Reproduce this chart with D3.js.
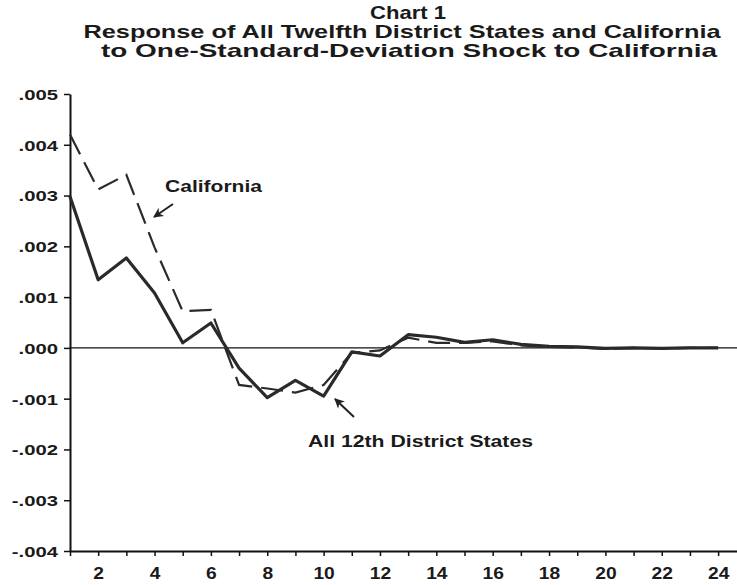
<!DOCTYPE html>
<html>
<head>
<meta charset="utf-8">
<script src="https://cdn.jsdelivr.net/npm/d3@7"></script>
<style>
  body { margin: 0; background: #fff; }
  text { font-family: "Liberation Sans", Arial, Helvetica, sans-serif; font-weight: bold; fill: #1a1a1a; }
</style>
</head>
<body>
<div id="drawArea"></div>
<script>
// periods after the shock
var periods = d3.range(1, 25);

// response of All 12th District States (solid)
var all12 = [0.00298, 0.00134, 0.00177, 0.00108, 0.00010, 0.00049, -0.00040, -0.00098,
             -0.00064, -0.00095, -0.00008, -0.00016, 0.00026, 0.00021, 0.00011, 0.00016,
             0.00007, 0.00003, 0.00002, -0.00001, 0.00000, -0.00001, 0.00000, 0.00000];

// response of California (dashed)
var california = [0.00420, 0.00312, 0.00341, 0.00198, 0.00072, 0.00075, -0.00073, -0.00080,
                  -0.00088, -0.00073, -0.00010, -0.00005, 0.00020, 0.00010, 0.00010, 0.00013,
                  0.00005, 0.00002, 0.00001, -0.00002, 0.00000, -0.00001, 0.00000, 0.00000];

var yTicks = [-0.004, -0.003, -0.002, -0.001, 0, 0.001, 0.002, 0.003, 0.004, 0.005];
var yTickLabels = ["-.004", "-.003", "-.002", "-.001", ".000", ".001", ".002", ".003", ".004", ".005"];
var xTickLabels = [2, 4, 6, 8, 10, 12, 14, 16, 18, 20, 22, 24];

var titleLines = ["Chart 1",
                  "Response of All Twelfth District States and California",
                  "to One-Standard-Deviation Shock to California"];

var svg_width = 737;
var svg_height = 585;

var svg = d3.select("#drawArea").append("svg")
  .attr("width", svg_width)
  .attr("height", svg_height);

var x = d3.scaleLinear().domain([1, 24.67]).range([70, 737]);
var y = d3.scaleLinear().domain([-0.004, 0.005]).range([551, 94]);

// stretch a text to a given width (the original type is set wide)
function fitText(sel, ratio){
  sel.each(function(){
    var w = this.getComputedTextLength();
    d3.select(this).attr("textLength", w * ratio).attr("lengthAdjust", "spacingAndGlyphs");
  });
}
function fitWidth(sel, width){
  sel.attr("textLength", width).attr("lengthAdjust", "spacingAndGlyphs");
}

// title
var titleX = [408, 402, 409];
var titleY = [19, 38, 57];
var titleW = [76, 637, 616];
svg.selectAll("text.title")
  .data(titleLines)
  .enter().append("text")
    .classed("title", true)
    .attr("x", function(d, i){ return titleX[i]; })
    .attr("y", function(d, i){ return titleY[i]; })
    .attr("text-anchor", "middle")
    .attr("font-size", 19)
    .text(function(d){ return d; })
    .each(function(d, i){ fitWidth(d3.select(this), titleW[i]); });

// y axis
var yAxis = svg.append("g")
  .attr("transform", "translate(70,0)")
  .call(d3.axisLeft(y)
    .tickValues(yTicks)
    .tickSize(6)
    .tickSizeOuter(0)
    .tickPadding(6)
    .tickFormat(function(d, i){ return yTickLabels[i]; }));
yAxis.select(".domain").attr("stroke", "#111").attr("stroke-width", 2);
yAxis.selectAll(".tick line").attr("stroke", "#111").attr("stroke-width", 1.5);
yAxis.selectAll(".tick text")
  .attr("font-size", 15)
  .attr("font-family", null)
  .attr("fill", "#1a1a1a")
  .attr("dy", "0.36em")
  .call(fitText, 1.35);

// x axis
var xAxis = svg.append("g")
  .attr("transform", "translate(0," + y(-0.004) + ")")
  .call(d3.axisBottom(x)
    .tickValues(periods)
    .tickSize(5)
    .tickSizeOuter(0)
    .tickPadding(12)
    .tickFormat(function(d){ return xTickLabels.indexOf(d) >= 0 ? d : ""; }));
xAxis.select(".domain").attr("stroke", "#111").attr("stroke-width", 2);
xAxis.selectAll(".tick line").attr("stroke", "#111").attr("stroke-width", 1.5);
xAxis.selectAll(".tick text")
  .attr("font-size", 16)
  .attr("font-family", null)
  .attr("fill", "#1a1a1a")
  .call(fitText, 1.2);

// zero line
svg.append("line")
  .attr("x1", x(1)).attr("x2", x(24.67))
  .attr("y1", y(0)).attr("y2", y(0))
  .attr("stroke", "#111")
  .attr("stroke-width", 1.2);

var line = d3.line()
  .x(function(d, i){ return x(periods[i]); })
  .y(function(d){ return y(d); });

svg.append("path")
  .datum(california)
  .attr("d", line)
  .attr("fill", "none")
  .attr("stroke", "#2a2a2a")
  .attr("stroke-width", 2.2)
  .attr("stroke-dasharray", "22,9");

svg.append("path")
  .datum(all12)
  .attr("d", line)
  .attr("fill", "none")
  .attr("stroke", "#2a2a2a")
  .attr("stroke-width", 3.2)
  .attr("stroke-linejoin", "round");

// annotations
svg.append("defs").append("marker")
  .attr("id", "arrow")
  .attr("viewBox", "0 0 10 10")
  .attr("refX", 9).attr("refY", 5)
  .attr("markerWidth", 14).attr("markerHeight", 10)
  .attr("markerUnits", "userSpaceOnUse")
  .attr("orient", "auto")
  .append("path")
    .attr("d", "M0,0 L10,5 L0,10 L3,5 Z")
    .attr("fill", "#222");

svg.append("text")
  .attr("x", 165).attr("y", 192)
  .attr("font-size", 16)
  .text("California")
  .call(fitWidth, 97);
svg.append("line")
  .attr("x1", 173).attr("y1", 204)
  .attr("x2", 154).attr("y2", 217)
  .attr("stroke", "#222").attr("stroke-width", 2)
  .attr("marker-end", "url(#arrow)");

svg.append("text")
  .attr("x", 308).attr("y", 447)
  .attr("font-size", 16)
  .text("All 12th District States")
  .call(fitWidth, 225);
svg.append("line")
  .attr("x1", 354).attr("y1", 417)
  .attr("x2", 335).attr("y2", 399)
  .attr("stroke", "#222").attr("stroke-width", 2)
  .attr("marker-end", "url(#arrow)");
</script>
</body>
</html>
